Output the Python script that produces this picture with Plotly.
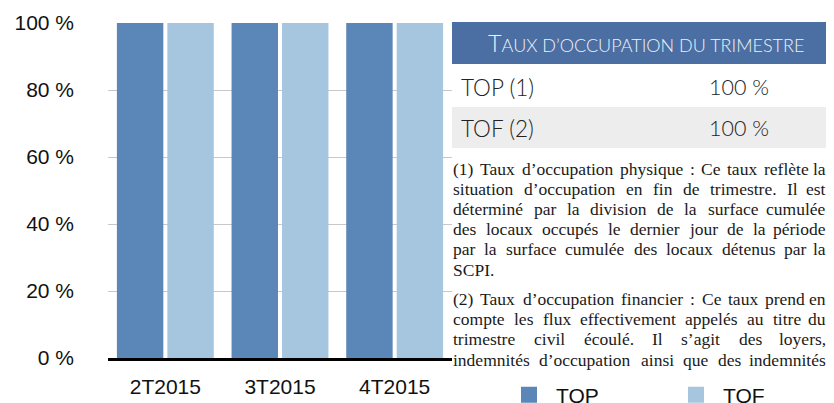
import os
import glob
import struct
import plotly.graph_objects as go

# ---------------- data ----------------
categories = ["2T2015", "3T2015", "4T2015"]
series_names = ["TOP", "TOF"]
top_values = [100, 100, 100]
tof_values = [100, 100, 100]
y_tick_values = [0, 20, 40, 60, 80, 100]
y_tick_labels = ["0 %", "20 %", "40 %", "60 %", "80 %", "100 %"]

table_title = "Taux d’occupation du trimestre"
table_labels = ["TOP (1)", "TOF (2)"]
table_values = ["100 %", "100 %"]

note_paragraphs = [
    [
        "(1) Taux d’occupation physique : Ce taux reflète la",
        "situation d’occupation en fin de trimestre. Il est",
        "déterminé par la division de la surface cumulée",
        "des locaux occupés le dernier jour de la période",
        "par la surface cumulée des locaux détenus par la",
        "SCPI.",
    ],
    [
        "(2) Taux d’occupation financier : Ce taux prend en",
        "compte les flux effectivement appelés au titre du",
        "trimestre civil écoulé. Il s’agit des loyers,",
        "indemnités d’occupation ainsi que des indemnités",
    ],
]
truncated_last = [False, True]  # second paragraph continues beyond the frame

# ---------------- style ----------------
COL_TOP = "#5b86b8"
COL_TOF = "#a6c6e0"
COL_HEAD = "#4b6ea3"
COL_ROW = "#ededed"
W, H = 834, 403
OFF = 8  # page body margin: screen px = figure px + 8
# plot area in screen pixels
P_LEFT, P_RIGHT, P_TOP, P_BOTTOM = 108, 452, 23, 358
ML, MT = P_LEFT - OFF, P_TOP - OFF
MR, MB = W - (P_RIGHT - OFF), H - (P_BOTTOM - OFF)
PW, PH = P_RIGHT - P_LEFT, P_BOTTOM - P_TOP


def px2x(px):  # screen px -> paper x
    return (px - P_LEFT) / PW


def px2y(py):  # screen px -> paper y
    return (P_BOTTOM - py) / PH


# ------------- font metrics (for justified text) -------------
def load_metrics(filename):
    paths = []
    for root in ["/usr/share/fonts", "/usr/local/share/fonts",
                 os.path.expanduser("~/.fonts"), os.path.expanduser("~/.local/share/fonts")]:
        paths += glob.glob(os.path.join(root, "**", filename), recursive=True)
    if not paths:
        return None
    try:
        data = open(paths[0], "rb").read()
        u16 = lambda o: struct.unpack(">H", data[o:o + 2])[0]
        n = u16(4)
        tables = {}
        for i in range(n):
            tag, _cs, off, ln = struct.unpack(">4sIII", data[12 + 16 * i:28 + 16 * i])
            tables[tag.decode("latin-1")] = off
        upem = u16(tables["head"] + 18)
        nhm = u16(tables["hhea"] + 34)
        hm = tables["hmtx"]
        adv = [u16(hm + 4 * i) for i in range(nhm)]
        cm = tables["cmap"]
        nsub = u16(cm + 2)
        sub = None
        for i in range(nsub):
            pid, eid, off = struct.unpack(">HHI", data[cm + 4 + 8 * i:cm + 12 + 8 * i])
            if pid == 3 and eid == 1 and u16(cm + off) == 4:
                sub = cm + off
                break
        if sub is None:
            return None
        segx2 = u16(sub + 6)
        ends = sub + 14
        starts = ends + segx2 + 2
        deltas = starts + segx2
        ranges = deltas + segx2
        segs = []
        for i in range(segx2 // 2):
            segs.append((u16(starts + 2 * i), u16(ends + 2 * i), u16(deltas + 2 * i),
                         u16(ranges + 2 * i), ranges + 2 * i))

        def glyph(c):
            for s, e, d, ro, addr in segs:
                if s <= c <= e:
                    if ro == 0:
                        return (c + d) & 0xFFFF
                    g = u16(addr + ro + 2 * (c - s))
                    return (g + d) & 0xFFFF if g else 0
            return 0

        def width(text, size):
            tot = 0
            for ch in text:
                g = glyph(ord(ch))
                tot += adv[g] if g < nhm else adv[-1]
            return tot * size / upem
        return width
    except Exception:
        return None


serif_width = load_metrics("LiberationSerif-Regular.ttf")
if serif_width is None:
    serif_width = lambda t, s: 0.46 * s * len(t)

# ---------------- figure ----------------
fig = go.Figure()
fig.add_trace(go.Bar(x=categories, y=top_values, name=series_names[0], showlegend=False,
                     marker=dict(color=COL_TOP, line=dict(width=0))))
fig.add_trace(go.Bar(x=categories, y=tof_values, name=series_names[1], showlegend=False,
                     marker=dict(color=COL_TOF, line=dict(width=0))))
# legend entries with larger square keys
for name, col in zip(series_names, [COL_TOP, COL_TOF]):
    fig.add_trace(go.Scatter(x=[None], y=[None], mode="markers", name=name,
                             marker=dict(symbol="square", size=17, color=col, line=dict(width=0))))

tick_font = dict(family="Liberation Sans, Arial, sans-serif", size=21, color="#111111")

fig.update_layout(
    width=W, height=H,
    margin=dict(l=ML, r=MR, t=MT, b=MB, autoexpand=False),
    paper_bgcolor="white", plot_bgcolor="white",
    barmode="group", bargap=0.12, bargroupgap=0.08,
    showlegend=True,
    legend=dict(orientation="h", x=px2x(502), y=px2y(395), xanchor="left", yanchor="middle",
                font=dict(family="Liberation Sans, Arial, sans-serif", size=21, color="#111111"),
                itemwidth=44, entrywidth=108, entrywidthmode="pixels", itemsizing="trace",
                bgcolor="rgba(0,0,0,0)", borderwidth=0, traceorder="normal"),
    xaxis=dict(showgrid=False, showline=True, linecolor="#000000", linewidth=2.5,
               ticks="", tickfont=tick_font, ticklabelstandoff=8, layer="above traces",
               fixedrange=True),
    yaxis=dict(range=[0, 100], tickvals=y_tick_values, ticktext=y_tick_labels,
               showgrid=True, gridcolor="#c8c8c8", gridwidth=1, zeroline=False,
               showline=False, ticks="", tickfont=tick_font, ticklabelstandoff=33,
               fixedrange=True),
)

# ---------------- right-hand panel ----------------
shapes = [
    dict(type="rect", xref="paper", yref="paper", x0=px2x(452), x1=px2x(W + OFF), y0=px2y(64), y1=px2y(22),
         fillcolor=COL_HEAD, line=dict(width=0), layer="above"),
    dict(type="rect", xref="paper", yref="paper", x0=px2x(452), x1=px2x(W + OFF), y0=px2y(148), y1=px2y(107),
         fillcolor=COL_ROW, line=dict(width=0), layer="above"),
]
fig.update_layout(shapes=shapes)


def small_caps(text, small):
    out = ""
    run = ""
    for ch in text:
        if ch.isupper():
            if run:
                out += '<span style="font-size:%.1fpx">%s</span>' % (small, run.upper())
                run = ""
            out += ch
        else:
            run += ch
    if run:
        out += '<span style="font-size:%.1fpx">%s</span>' % (small, run.upper())
    return out


ann = []
ann.append(dict(text=small_caps(table_title, 18), xref="paper", yref="paper",
                x=px2x(646), y=px2y(43), xanchor="center", yanchor="middle", showarrow=False,
                font=dict(family="Lato, sans-serif", size=23.5, color="#eef2f8", weight=300)))
row_centers = [87, 128.5]
for lab, val, yc in zip(table_labels, table_values, row_centers):
    ann.append(dict(text=lab, xref="paper", yref="paper", x=px2x(460), y=px2y(yc),
                    xanchor="left", yanchor="middle", showarrow=False, borderpad=0,
                    font=dict(family="Lato, sans-serif", size=22.5, color="#222222", weight=300)))
    ann.append(dict(text=val, xref="paper", yref="paper", x=px2x(708), y=px2y(yc),
                    xanchor="left", yanchor="middle", showarrow=False, borderpad=0,
                    font=dict(family="Lato, sans-serif", size=21.5, color="#222222", weight=300)))

# justified footnotes, one word at a time
NOTE_SIZE = 17.5
LEFT, RIGHT = 452, 827
baselines = [[174.5, 194.7, 214.9, 235.1, 255.3, 275.5], [305.0, 325.2, 345.4, 365.6]]
note_font = dict(family="Liberation Serif, Times New Roman, serif", size=NOTE_SIZE, color="#1a1a1a")
for p, (lines, bls) in enumerate(zip(note_paragraphs, baselines)):
    for i, (line, bl) in enumerate(zip(lines, bls)):
        yc = bl - 0.3375 * NOTE_SIZE
        last = (i == len(lines) - 1) and not truncated_last[p]
        words = line.split(" ")
        if last or len(words) == 1:
            ann.append(dict(text=line, xref="paper", yref="paper", x=px2x(LEFT), y=px2y(yc),
                            xanchor="left", yanchor="middle", showarrow=False, borderpad=0,
                            font=note_font))
            continue
        widths = [serif_width(w, NOTE_SIZE) for w in words]
        gap = (RIGHT - LEFT - sum(widths)) / (len(words) - 1)
        xpos = LEFT
        for j, (w, wd) in enumerate(zip(words, widths)):
            if j == len(words) - 1:
                ann.append(dict(text=w, xref="paper", yref="paper", x=px2x(RIGHT), y=px2y(yc),
                                xanchor="right", yanchor="middle", showarrow=False, borderpad=0,
                                font=note_font))
            else:
                ann.append(dict(text=w, xref="paper", yref="paper", x=px2x(xpos), y=px2y(yc),
                                xanchor="left", yanchor="middle", showarrow=False, borderpad=0,
                                font=note_font))
            xpos += wd + gap

fig.update_layout(annotations=ann)

fig.write_html("out.html", config={"displayModeBar": False})
